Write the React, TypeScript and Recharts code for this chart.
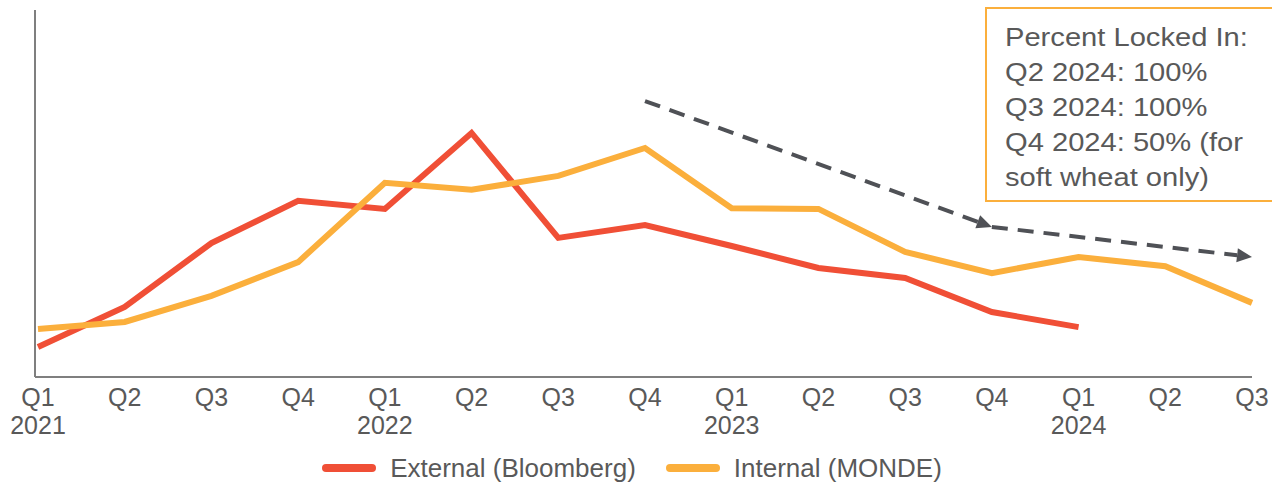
import { LineChart, Line, XAxis, YAxis, ReferenceLine, Legend } from 'recharts';

const quarters = [
  'Q1 2021', 'Q2 2021', 'Q3 2021', 'Q4 2021',
  'Q1 2022', 'Q2 2022', 'Q3 2022', 'Q4 2022',
  'Q1 2023', 'Q2 2023', 'Q3 2023', 'Q4 2023',
  'Q1 2024', 'Q2 2024', 'Q3 2024',
];
const externalBloomberg = [8.2, 19.1, 36.5, 48.0, 45.8, 66.5, 37.9, 41.4, 35.7, 29.7, 27.0, 17.7, 13.6, null, null];
const internalMonde = [13.1, 15.0, 22.1, 31.3, 52.9, 51.0, 54.8, 62.4, 46.0, 45.8, 34.1, 28.3, 32.7, 30.2, 20.2];

// dashed trend arrows (quarter, value)
const trendQuarters = ['Q4 2022', 'Q4 2023', 'Q3 2024'];
const trendValues = [75.2, 40.9, 32.7];

const lockedInLines = [
  'Percent Locked In:',
  'Q2 2024: 100%',
  'Q3 2024: 100%',
  'Q4 2024: 50% (for',
  'soft wheat only)',
];

const RED = '#F04F36';
const ORANGE = '#FBAF3C';
const TEXT = '#595959';
const FONT = '"Liberation Sans", Arial, sans-serif';

const data = quarters.map((q, i) => ({
  quarter: q,
  external: externalBloomberg[i],
  internal: internalMonde[i],
}));

const QuarterTick = ({ x, y, payload }: any) => {
  const [q, yr] = String(payload.value).split(' ');
  return (
    <g>
      <text x={x} y={y + 29} textAnchor="middle" fontSize={25} fill={TEXT} fontFamily={FONT}>{q}</text>
      {q === 'Q1' && (
        <text x={x} y={y + 57} textAnchor="middle" fontSize={25} fill={TEXT} fontFamily={FONT}>{yr}</text>
      )}
    </g>
  );
};

const ArrowSegment = (props: any) => {
  const { x1, y1, x2, y2 } = props;
  const dx = x2 - x1;
  const dy = y2 - y1;
  const len = Math.sqrt(dx * dx + dy * dy) || 1;
  const ux = dx / len;
  const uy = dy / len;
  const head = 15;
  const half = 7;
  const bx = x2 - ux * head;
  const by = y2 - uy * head;
  return (
    <g>
      <line x1={x1} y1={y1} x2={bx} y2={by} stroke="#4F5156" strokeWidth={4} strokeDasharray="16 10" />
      <polygon
        points={`${x2},${y2} ${bx - uy * half},${by + ux * half} ${bx + uy * half},${by - ux * half}`}
        fill="#4F5156"
      />
    </g>
  );
};

const LegendContent = () => (
  <div style={{ display: 'flex', justifyContent: 'center', alignItems: 'center', height: 24, fontFamily: FONT, fontSize: 26, color: TEXT }}>
    {[
      { label: 'External (Bloomberg)', color: RED },
      { label: 'Internal (MONDE)', color: ORANGE },
    ].map((item, i) => (
      <div key={item.label} style={{ display: 'flex', alignItems: 'center', marginLeft: i === 0 ? 0 : 30 }}>
        <span style={{ display: 'inline-block', width: 54, height: 8, borderRadius: 4, background: item.color, marginRight: 14 }} />
        <span style={{ lineHeight: '24px', whiteSpace: 'nowrap' }}>{item.label}</span>
      </div>
    ))}
  </div>
);

export default function App() {
  return (
    <div style={{ position: 'relative', width: 1272, height: 483, overflow: 'hidden', background: '#fff', fontFamily: FONT }}>
      <style>{`body{margin:0}`}</style>
      <LineChart width={1272} height={483} data={data} margin={{ top: 10, right: 20, left: 33, bottom: 32 }}>
        <XAxis
          dataKey="quarter"
          height={50}
          padding={{ left: 3, right: 0 }}
          tick={<QuarterTick />}
          tickLine={false}
          tickSize={0}
          tickMargin={0}
          interval={0}
          axisLine={{ stroke: '#7F7F7F', strokeWidth: 2 }}
        />
        <YAxis width={2} domain={[0, 100]} tick={false} tickLine={false} axisLine={{ stroke: '#7F7F7F', strokeWidth: 2 }} />
        <Legend verticalAlign="bottom" content={<LegendContent />} wrapperStyle={{ bottom: 3, left: -4, width: 1272 }} />
        <Line
          type="linear"
          dataKey="external"
          name="External (Bloomberg)"
          stroke={RED}
          strokeWidth={6}
          strokeLinejoin="miter"
          dot={false}
          activeDot={false}
          isAnimationActive={false}
        />
        <Line
          type="linear"
          dataKey="internal"
          name="Internal (MONDE)"
          stroke={ORANGE}
          strokeWidth={6}
          strokeLinejoin="miter"
          dot={false}
          activeDot={false}
          isAnimationActive={false}
        />
        {trendQuarters.slice(1).map((q, i) => (
          <ReferenceLine
            key={q}
            segment={[
              { x: trendQuarters[i], y: trendValues[i] },
              { x: q, y: trendValues[i + 1] },
            ]}
            ifOverflow="visible"
            shape={<ArrowSegment />}
          />
        ))}
      </LineChart>
      <div
        style={{
          position: 'absolute',
          left: 985,
          top: 7,
          width: 320,
          height: 195,
          border: `2px solid ${ORANGE}`,
          boxSizing: 'border-box',
        }}
      />
      <div
        style={{
          position: 'absolute',
          left: 1005,
          top: 20,
          fontSize: 26,
          lineHeight: '35px',
          color: TEXT,
          whiteSpace: 'nowrap',
          transform: 'scaleX(1.12)',
          transformOrigin: 'left top',
        }}
      >
        {lockedInLines.map((l) => (
          <div key={l}>{l}</div>
        ))}
      </div>
    </div>
  );
}
